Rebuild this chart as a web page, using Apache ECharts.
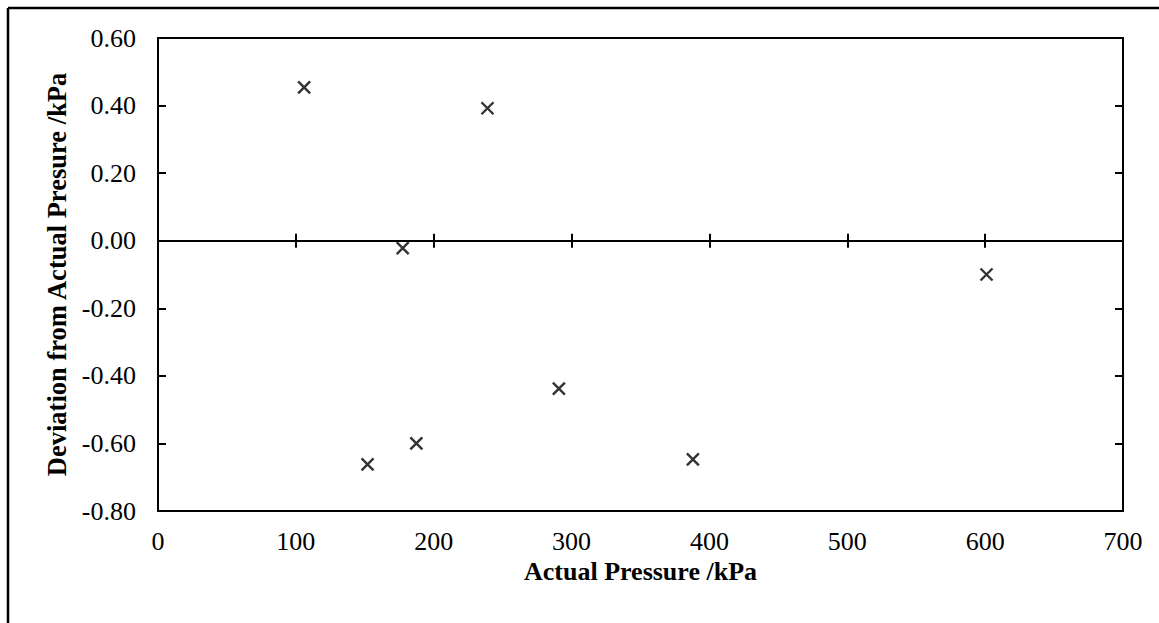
<!DOCTYPE html>
<html>
<head>
    <meta charset="utf-8">
    <script src="https://cdn.jsdelivr.net/npm/echarts@6/dist/echarts.min.js"></script>
    <style>
        html, body { margin: 0; padding: 0; background: #fff; }
        #chart { width: 1159px; height: 623px; }
    </style>
</head>
<body>
    <div id="chart"></div>
    <script>
        // readings
        var pressure = [106, 152, 177.5, 187.4, 239, 290.8, 388, 601];
        var deviation = [0.454, -0.662, -0.022, -0.600, 0.392, -0.438, -0.647, -0.100];
        var xTitle = 'Actual Pressure /kPa';
        var yTitle = 'Deviation from Actual Presure /kPa';

        var points = pressure.map(function (p, i) { return [p, deviation[i]]; });
        var font = 'Liberation Serif';

        var chart = echarts.init(document.getElementById('chart'), null, { renderer: 'svg' });

        var xBase = { type: 'value', min: 0, max: 700, interval: 100, splitLine: { show: false } };

        var option = {
            animation: false,
            grid: {
                left: 158, top: 38, right: 36, bottom: 112,
                show: true, borderColor: '#000', borderWidth: 2
            },
            graphic: [
                { type: 'line', shape: { x1: 8, y1: 8, x2: 1159, y2: 8 }, style: { stroke: '#000', lineWidth: 2.5 } },
                { type: 'line', shape: { x1: 8, y1: 8, x2: 8, y2: 623 }, style: { stroke: '#000', lineWidth: 2.5 } }
            ],
            xAxis: [
                Object.assign({}, xBase, {
                    position: 'bottom',
                    name: xTitle,
                    nameLocation: 'middle',
                    nameGap: 39,
                    nameTextStyle: { fontFamily: font, fontSize: 26, fontWeight: 'bold', color: '#000' },
                    axisLine: { onZero: false, lineStyle: { color: '#000', width: 2 } },
                    axisTick: { show: false },
                    axisLabel: { margin: 17, fontFamily: font, fontSize: 26, color: '#000' }
                }),
                // zero line with ticks crossing it (upper half)
                Object.assign({}, xBase, {
                    axisLine: { onZero: true, lineStyle: { color: '#000', width: 2 } },
                    axisTick: { inside: true, length: 7, lineStyle: { color: '#000', width: 2 } },
                    axisLabel: { show: false }
                }),
                // lower half of the crossing ticks
                Object.assign({}, xBase, {
                    axisLine: { onZero: true, lineStyle: { color: '#000', width: 2 } },
                    axisTick: { inside: false, length: 7, lineStyle: { color: '#000', width: 2 } },
                    axisLabel: { show: false }
                })
            ],
            yAxis: [
                {
                    type: 'value', min: -0.8, max: 0.6, interval: 0.2,
                    position: 'left',
                    name: yTitle,
                    nameLocation: 'middle',
                    nameGap: 86,
                    nameTextStyle: { fontFamily: font, fontSize: 26.5, fontWeight: 'bold', color: '#000' },
                    splitLine: { show: false },
                    axisLine: { onZero: false, lineStyle: { color: '#000', width: 2 } },
                    axisTick: { inside: true, length: 8, lineStyle: { color: '#000', width: 2 } },
                    axisLabel: {
                        margin: 22, fontFamily: font, fontSize: 26, color: '#000',
                        formatter: function (v) { return v.toFixed(2); }
                    }
                },
                {
                    type: 'value', min: -0.8, max: 0.6, interval: 0.2,
                    position: 'right',
                    splitLine: { show: false },
                    axisLine: { onZero: false, lineStyle: { color: '#000', width: 2 } },
                    axisTick: { inside: true, length: 8, lineStyle: { color: '#000', width: 2 } },
                    axisLabel: { show: false }
                }
            ],
            series: [{
                type: 'scatter',
                data: points,
                symbol: 'path://M0,0L10,10M10,0L0,10',
                symbolSize: 12,
                itemStyle: { color: 'none', borderColor: '#000', borderWidth: 2.4 }
            }]
        };
        chart.setOption(option);
    </script>
</body>
</html>
